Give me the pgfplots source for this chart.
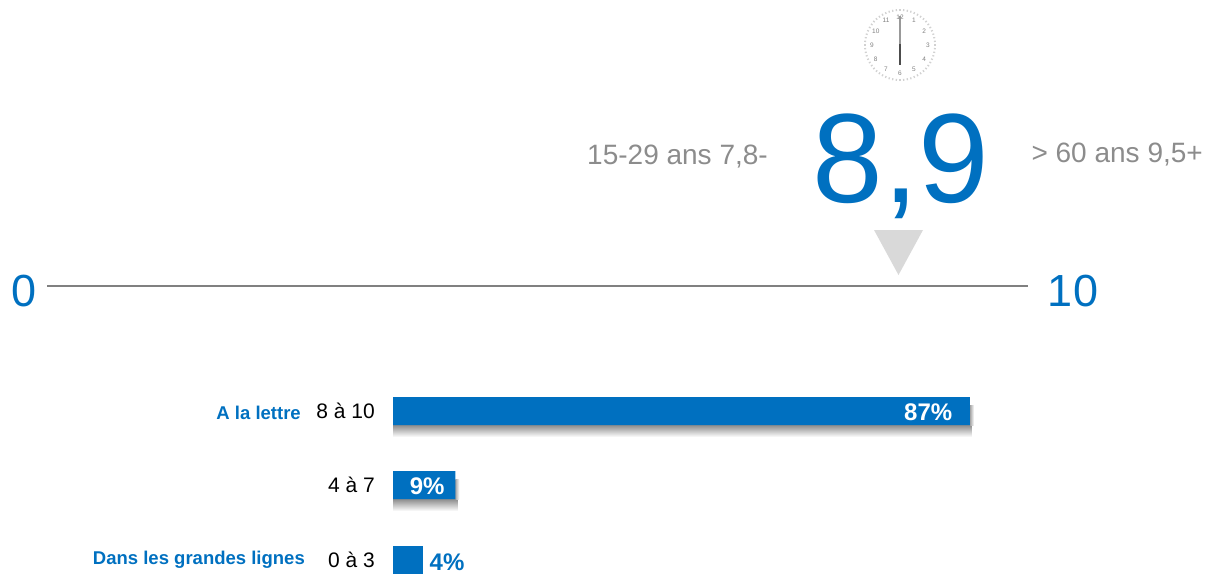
\documentclass[border=0pt]{standalone}
\usepackage{pgfplots}
\pgfplotsset{compat=1.18}
\usepackage{fontspec}
\setmainfont{Liberation Sans}
\definecolor{blu}{HTML}{0070C0}
\definecolor{gtxt}{HTML}{8C8C8C}
\definecolor{tri}{HTML}{D9D9D9}
\newcommand{\fs}[1]{\fontsize{#1}{#1}\selectfont}
\begin{document}
\begin{tikzpicture}[x=1pt,y=1pt]
\path[use as bounding box] (0,0) rectangle (1207,573);
% Overall layout axis, in pixel units of the picture
\begin{axis}[at={(0,0)},anchor=south west,scale only axis,width=1207pt,height=573pt,
  xmin=0,xmax=1207,ymin=0,ymax=573,y dir=reverse,axis lines=none,clip=false]
  % clock
  \foreach \a in {0,6,...,354}{
    \edef\tmp{\noexpand\draw[black!18,line width=1.3pt] (axis cs:{900+36*sin(\a)},{45-36*cos(\a)}) -- (axis cs:{900+34*sin(\a)},{45-34*cos(\a)});}\tmp
  }
  \foreach \a/\t in {30/1,60/2,90/3,120/4,150/5,180/6,210/7,240/8,270/9,300/10,330/11,0/12}{
    \edef\tmp{\noexpand\node[text=black!50,inner sep=0pt,font=\noexpand\fs{6.5}] at (axis cs:{900+28*sin(\a)},{45-28*cos(\a)}) {\t};}\tmp
  }
  \addplot[color=black!40,line width=2pt] coordinates {(900,16)(900,44)};
  \addplot[color=black!70,line width=2pt] coordinates {(900,44)(900,65)};
  % scale
  \addplot[color=black!50,line width=2pt] coordinates {(47,285.5)(1028,285.5)};
  \addplot[draw=none,fill=tri] coordinates {(874,230)(923,230)(898.5,275)} -- cycle;
  \node[text=blu,font=\fs{45},anchor=center] at (axis cs:24.5,291) {0};
  \node[text=blu,font=\fs{45},anchor=center] at (axis cs:1073,291) {10};
  \node[text=blu,font=\fs{127},anchor=center] at (axis cs:901,166) {8,9};
  \node[text=gtxt,font=\fs{28},anchor=east,inner sep=0pt] at (axis cs:768,157) {15-29 ans 7,8-};
  \node[text=gtxt,font=\fs{28},anchor=east,inner sep=0pt] at (axis cs:1203,155) {> 60 ans 9,5+};
  % category labels
  \node[font=\fs{21},anchor=east,inner sep=0pt] at (axis cs:375,411) {8 à 10};
  \node[font=\fs{21},anchor=east,inner sep=0pt] at (axis cs:375,485) {4 à 7};
  \node[font=\fs{21},anchor=east,inner sep=0pt] at (axis cs:375,560) {0 à 3};
  \node[text=blu,font=\fs{18.5}\bfseries,anchor=east,inner sep=0pt] at (axis cs:301,413) {A la lettre};
  \node[text=blu,font=\fs{18.5}\bfseries,anchor=east,inner sep=0pt] at (axis cs:305,560) {Dans les grandes lignes};
\end{axis}
% Bars: x in percent
\begin{axis}[at={(393pt,0pt)},anchor=south west,scale only axis,width=663.2pt,height=573pt,
  xmin=0,xmax=100,ymin=0,ymax=573,y dir=reverse,axis lines=none,clip=true]
  \shade[top color=black!45,bottom color=white] (axis cs:0,425) rectangle (axis cs:87.3,437);
  \shade[left color=black!35,right color=white] (axis cs:87,405) rectangle (axis cs:87.6,425);
  \shade[top color=black!45,bottom color=white] (axis cs:0,499) rectangle (axis cs:9.7,511);
  \shade[left color=black!35,right color=white] (axis cs:9.4,479) rectangle (axis cs:10,499);
  \addplot[xbar,bar width=28pt,fill=blu,draw=none,bar shift=0pt] coordinates {(87,411)(9.4,485)(4.5,560)};
\end{axis}
\begin{axis}[at={(393pt,0pt)},anchor=south west,scale only axis,width=663.2pt,height=573pt,
  xmin=0,xmax=100,ymin=0,ymax=573,y dir=reverse,axis lines=none,clip=false]
  \node[text=white,font=\fs{24}\bfseries,anchor=east,inner sep=0pt] at (axis cs:84.35,412) {87\%};
  \node[text=white,font=\fs{24}\bfseries,anchor=east,inner sep=0pt] at (axis cs:7.8,486) {9\%};
  \node[text=blu,font=\fs{24}\bfseries,anchor=west,inner sep=0pt] at (axis cs:5.5,562) {4\%};
\end{axis}
\end{tikzpicture}
\end{document}
